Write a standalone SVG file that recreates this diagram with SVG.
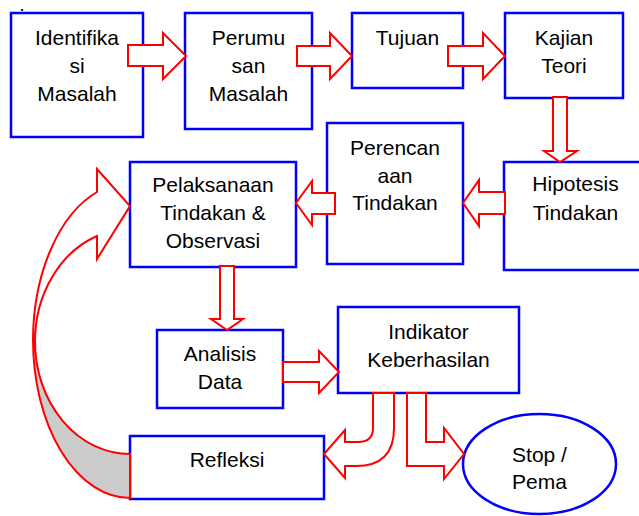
<svg xmlns="http://www.w3.org/2000/svg" width="639" height="516" viewBox="0 0 639 516">
<style>
.box{fill:#fff;stroke:#0000ff;stroke-width:2.5}
.arr{fill:#fff;stroke:#ff0000;stroke-width:2;stroke-linejoin:miter}
text{font-family:"Liberation Sans",Arial,sans-serif;font-size:21px;fill:#000;text-anchor:middle}
</style>
<rect width="639" height="516" fill="#fff"/>
<text x="22" y="11" style="font-size:13px;font-weight:bold">.</text>
<g id="n1"><rect class="box" x="11" y="13" width="132" height="124"/><text x="77" y="45">Identifika</text><text x="77" y="73">si</text><text x="77" y="101">Masalah</text></g>
<g id="n2"><rect class="box" x="185" y="13" width="127" height="116"/><text x="248.5" y="45">Perumu</text><text x="248.5" y="73">san</text><text x="248.5" y="101">Masalah</text></g>
<g id="n3"><rect class="box" x="352" y="13" width="111" height="75"/><text x="407.5" y="45">Tujuan</text></g>
<g id="n4"><rect class="box" x="505" y="13" width="118" height="85"/><text x="564" y="45">Kajian</text><text x="564" y="73">Teori</text></g>
<g id="n5"><rect class="box" x="504" y="162" width="143" height="108"/><text x="575.5" y="191">Hipotesis</text><text x="575.5" y="220">Tindakan</text></g>
<g id="n6"><rect class="box" x="327" y="123" width="136" height="141"/><text x="395" y="155">Perencan</text><text x="395" y="183">aan</text><text x="395" y="210">Tindakan</text></g>
<g id="n7"><rect class="box" x="130" y="162" width="166" height="105"/><text x="213" y="192">Pelaksanaan</text><text x="213" y="220">Tindakan &amp;</text><text x="213" y="248">Observasi</text></g>
<g id="n8"><rect class="box" x="157" y="330" width="126" height="78"/><text x="220" y="361">Analisis</text><text x="220" y="389">Data</text></g>
<g id="n9"><rect class="box" x="338" y="307" width="181" height="86"/><text x="428.5" y="339">Indikator</text><text x="428.5" y="367">Keberhasilan</text></g>
<g id="n10"><rect class="box" x="130" y="436" width="194" height="63"/><text x="227" y="467">Refleksi</text></g>
<g id="n11"><ellipse cx="539.5" cy="464" rx="76.5" ry="50" fill="#fff" stroke="#0000ff" stroke-width="2.5"/><text x="539.5" y="462">Stop /</text><text x="539.5" y="489">Pema</text></g>
<g id="connectors">
<polygon class="arr" points="128,45 163,45 163,33 186,56 163,79 163,66 128,66"/>
<polygon class="arr" points="297,46 330,46 330,33 352,56 330,79 330,66 297,66"/>
<polygon class="arr" points="448,46 483,46 483,33 505,56 483,79 483,66 448,66"/>
<polygon class="arr" points="553,97 567,97 567,151 577,151 560,162 544,151 553,151"/>
<polygon class="arr" points="505,192 479,192 479,180 463,203 479,226 479,214 505,214"/>
<polygon class="arr" points="335,193 312,193 312,181 296,203 312,225 312,214 335,214"/>
<polygon class="arr" points="220,266 234,266 234,319 243,319 227,330 211,319 220,319"/>
<polygon class="arr" points="283,362 319,362 319,351 339,372 319,393 319,382 283,382"/>
<polygon class="arr" points="407,393 426,393 426,442 444,442 444,428 464,454 444,479 444,466 407,466"/>
<path class="arr" d="M373,393 L394,393 L394,428 Q394,466 356,466 L345,466 L345,478 L324,454 L345,430 L345,442 L358,442 Q373,442 373,428 Z"/>
<path d="M33,340 A97 158 0 0 0 130,498 L130,454 A95 112.5 0 0 1 35,341.5 Z" fill="#cccccc"/>
<path d="M97,169 L130,206 L97,259 L97,236 A95 112.5 0 0 0 35,341.5 A95 112.5 0 0 0 130,454 L130,498 A97 158 0 0 1 33,340 A97 158 0 0 1 97,192 Z" fill="none" stroke="#ff0000" stroke-width="2"/>
</g>
</svg>
